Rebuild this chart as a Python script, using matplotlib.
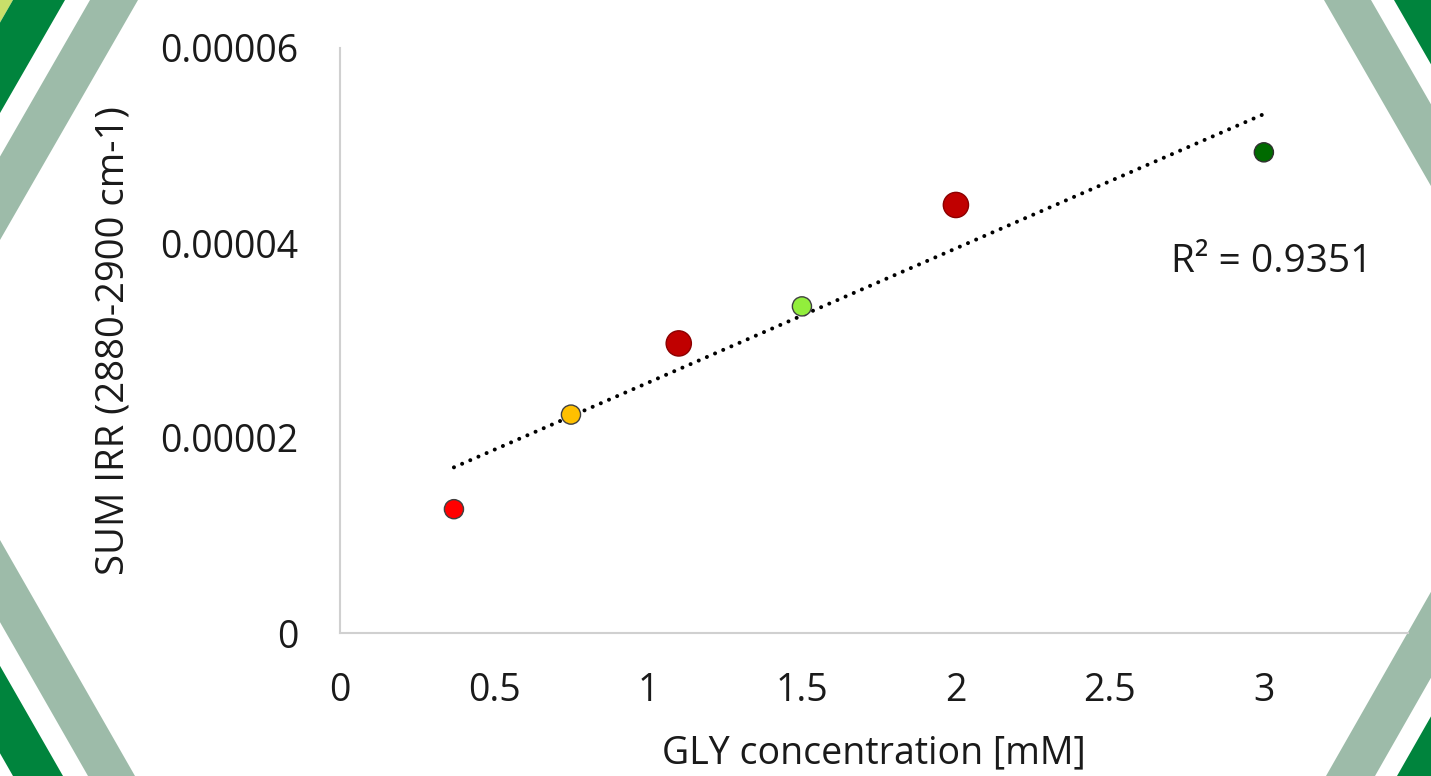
import matplotlib.pyplot as plt
from matplotlib.patches import Polygon
import numpy as np

plt.rcParams['font.family'] = ['Open Sans', 'DejaVu Sans']

# data
gly_mM = [0.37, 0.75, 1.1, 1.5, 2.0, 3.0]
sum_irr = [1.27e-5, 2.24e-5, 2.97e-5, 3.35e-5, 4.39e-5, 4.93e-5]
point_colors = ['#FF0000', '#FFC000', '#C00000', '#92EE3C', '#C00000', '#006A00']
point_edges = ['#404040', '#404040', '#8B0000', '#404040', '#8B0000', '#303030']
point_sizes = [190, 190, 330, 190, 330, 190]

x_ticks = [0, 0.5, 1, 1.5, 2, 2.5, 3]
x_tick_labels = ['0', '0.5', '1', '1.5', '2', '2.5', '3']
y_ticks = [0, 0.00002, 0.00004, 0.00006]
y_tick_labels = ['0', '0.00002', '0.00004', '0.00006']
r2_text = 'R² = 0.9351'

W, H = 1431, 776
fig = plt.figure(figsize=(W / 100, H / 100), dpi=100)

# background decoration: diagonal stripes in the corners (pixel coords)
bg = fig.add_axes([0, 0, 1, 1])
bg.set_xlim(0, W)
bg.set_ylim(H, 0)
bg.axis('off')

DARK = '#00843D'
GREY = '#9DBBA9'
LIME = '#C8DF6A'


def band(cx, cy, sx, sy, c1, c2, k, color):
    # strip between two parallel diagonals cutting a corner
    pts = [(cx + sx * c1, cy), (cx + sx * c2, cy),
           (cx, cy + sy * c2 / k), (cx, cy + sy * c1 / k)]
    bg.add_patch(Polygon(pts, closed=True, color=color, lw=0))


# top-left
band(0, 0, 1, 1, 0, 13, 0.575, LIME)
band(0, 0, 1, 1, 13, 65, 0.575, DARK)
band(0, 0, 1, 1, 90, 138, 0.575, GREY)
# bottom-left
band(0, H, 1, -1, 13, 63, 0.572, DARK)
band(0, H, 1, -1, 88, 135, 0.572, GREY)
# top-right
band(W, 0, -1, 1, 0, 37, 0.575, DARK)
band(W, 0, -1, 1, 60, 107, 0.575, GREY)
# bottom-right
band(W, H, -1, -1, 0, 34, 0.57, DARK)
band(W, H, -1, -1, 56, 105, 0.57, GREY)

# main plot
ax = fig.add_axes([340 / W, (H - 633) / H, (1408 - 340) / W, 585 / H])
ax.patch.set_alpha(0)
ax.set_xlim(0, 3.468)
ax.set_ylim(0, 0.00006)

ax.scatter(gly_mM, sum_irr, s=point_sizes, c=point_colors,
           edgecolors=point_edges, linewidths=1.0, zorder=3)

# linear trendline over data range
m, b = np.polyfit(gly_mM, sum_irr, 1)
xt = np.array([min(gly_mM), max(gly_mM)])
ax.plot(xt, m * xt + b, color='black', lw=2.9, linestyle=(0, (0.01, 2.2)),
        dash_capstyle='round', zorder=2)

ax.text(2.70, 3.80e-5, r2_text, fontsize=28, va='center', ha='left',
        color='#1a1a1a')

ax.set_xticks(x_ticks)
ax.set_xticklabels(x_tick_labels)
ax.set_yticks(y_ticks)
ax.set_yticklabels(y_tick_labels)
ax.tick_params(length=0, labelsize=27, labelcolor='#1a1a1a')
ax.tick_params(axis='y', pad=30)
ax.tick_params(axis='x', pad=28)

for s in ['top', 'right']:
    ax.spines[s].set_visible(False)
for s in ['left', 'bottom']:
    ax.spines[s].set_color('#D0D0D0')
    ax.spines[s].set_linewidth(1.5)

ax.set_xlabel('GLY concentration [mM]', fontsize=27, color='#1a1a1a',
              labelpad=18)
ax.set_ylabel('SUM IRR (2880-2900 cm-1)', fontsize=27.5, color='#1a1a1a',
              labelpad=20)

fig.savefig('out.png', dpi=100)
